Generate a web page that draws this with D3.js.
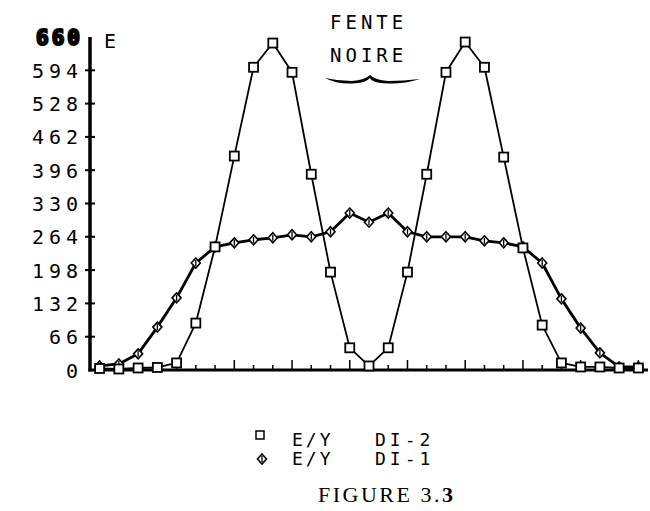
<!DOCTYPE html>
<html><head><meta charset="utf-8">
<script src="https://cdn.jsdelivr.net/npm/d3@7/dist/d3.min.js"></script>
<style>body{margin:0;background:#fff}svg{display:block}</style>
</head><body>
<svg id="c" width="650" height="511"></svg>
<script>
// point index along the scan (x), 29 positions
const positions = d3.range(29);
// E/Y DI-2 (squares)
const di2 = [3,2,4,5,14,93,244,424,600,648,590,388,194,44,8,44,194,388,590,650,600,422,242,89,14,6,6,4,4];
// E/Y DI-1 (diamonds)
const di1 = [8,12,32,85,143,212,244,252,258,262,268,264,274,311,293,311,274,264,264,264,256,252,244,212,141,83,34,6,6];
const yTicks = [0,66,132,198,264,330,396,462,528,594];
const yTopLabel = "660";
const legendLabels = [["E/Y","DI-2"],["E/Y","DI-1"]];

const svg = d3.select("#c");
const x = d3.scaleLinear().domain([-0.5, 28.5]).range([90, 648]);
const y = d3.scaleLinear().domain([0, 660]).range([370, 37]);
const mono = "DejaVu Sans Mono";

// axes lines
svg.append("line").attr("x1",x(-0.5)).attr("x2",x(-0.5)).attr("y1",y(660)).attr("y2",y(0)+1.5)
  .attr("stroke","#000").attr("stroke-width",3.5);
svg.append("line").attr("x1",x(-0.5)-1.5).attr("x2",x(28.5)).attr("y1",y(0)).attr("y2",y(0))
  .attr("stroke","#000").attr("stroke-width",3);

// y ticks
svg.selectAll(".yt").data(yTicks.filter(d=>d>0)).enter().append("line")
  .attr("x1",x(-0.5)-5).attr("x2",x(-0.5)+5).attr("y1",d=>y(d)).attr("y2",d=>y(d))
  .attr("stroke","#000").attr("stroke-width",2);
svg.selectAll(".yl").data(yTicks).enter().append("text")
  .attr("x",83).attr("y",d=>y(d)+7.5).attr("text-anchor","end")
  .attr("font-family",mono).attr("font-size",20).attr("letter-spacing",5)
  .attr("fill","#000").text(d=>d);
svg.append("text").attr("x",83).attr("y",y(660)+8).attr("text-anchor","end")
  .attr("font-family",mono).attr("font-size",21).attr("font-weight","bold").attr("letter-spacing",3)
  .attr("fill","#000").attr("stroke","#000").attr("stroke-width",2.2).text(yTopLabel);
svg.append("text").attr("x",104).attr("y",48).attr("font-family",mono).attr("font-size",20).text("E");

// x ticks
svg.selectAll(".xt").data(positions).enter().append("line")
  .attr("x1",d=>x(d)).attr("x2",d=>x(d)).attr("y1",y(0)).attr("y2",(d,i)=>y(0)-(i%3===1?10:5))
  .attr("stroke","#000").attr("stroke-width",1.5);

// lines
const line = d3.line().x((d,i)=>x(positions[i])).y(d=>y(d));
svg.append("path").datum(di1).attr("d",line).attr("fill","none").attr("stroke","#000").attr("stroke-width",2.8).attr("stroke-linejoin","round");
svg.append("path").datum(di2).attr("d",line).attr("fill","none").attr("stroke","#000").attr("stroke-width",1.8).attr("stroke-linejoin","round");

// diamond markers
function diamond(g, cx, cy){
  g.append("path").attr("d",`M${cx},${cy-5}L${cx+4.5},${cy}L${cx},${cy+5}L${cx-4.5},${cy}Z`)
    .attr("fill","#fff").attr("stroke","#000").attr("stroke-width",1.6);
  g.append("line").attr("x1",cx).attr("x2",cx).attr("y1",cy-3).attr("y2",cy+3).attr("stroke","#000").attr("stroke-width",1.3);
}
const gd = svg.append("g");
di1.forEach((v,i)=>diamond(gd, x(positions[i]), y(v)));
// square markers
svg.selectAll(".sq").data(di2).enter().append("rect")
  .attr("x",(d,i)=>x(positions[i])-4.5).attr("y",d=>y(d)-4.5).attr("width",9).attr("height",9)
  .attr("fill","#fff").attr("stroke","#000").attr("stroke-width",1.8);

// annotation
svg.append("text").attr("x",330).attr("y",29).attr("font-family",mono).attr("font-size",19).attr("letter-spacing",4).text("FENTE");
svg.append("text").attr("x",330).attr("y",62).attr("font-family",mono).attr("font-size",19).attr("letter-spacing",4).text("NOIRE");
svg.append("path")
  .attr("d","M325,78 Q338,81 352,81 Q365,80 370,75 Q375,80 388,81 Q404,81 420,79 Q404,84 388,83.5 Q372,83 370,78 Q366,83 352,83.5 Q336,84 325,78Z")
  .attr("fill","#000");

// legend
const lg = svg.append("g");
lg.append("rect").attr("x",256).attr("y",431).attr("width",8).attr("height",8).attr("fill","#fff").attr("stroke","#000").attr("stroke-width",1.5);
diamond(lg, 262, 459);
legendLabels.forEach((l,i)=>{
  lg.append("text").attr("x",292).attr("y",446+i*19).attr("font-family",mono).attr("font-size",18).attr("letter-spacing",3).text(l[0]);
  lg.append("text").attr("x",375).attr("y",446+i*19).attr("font-family",mono).attr("font-size",18).attr("letter-spacing",4).text(l[1]);
});
const ft = svg.append("text").attr("x",318).attr("y",502).attr("font-family","Liberation Serif").attr("font-size",22).attr("letter-spacing",2.5);
ft.append("tspan").text("FIGURE 3.");
ft.append("tspan").attr("font-weight","bold").text("3");
</script>
</body></html>
